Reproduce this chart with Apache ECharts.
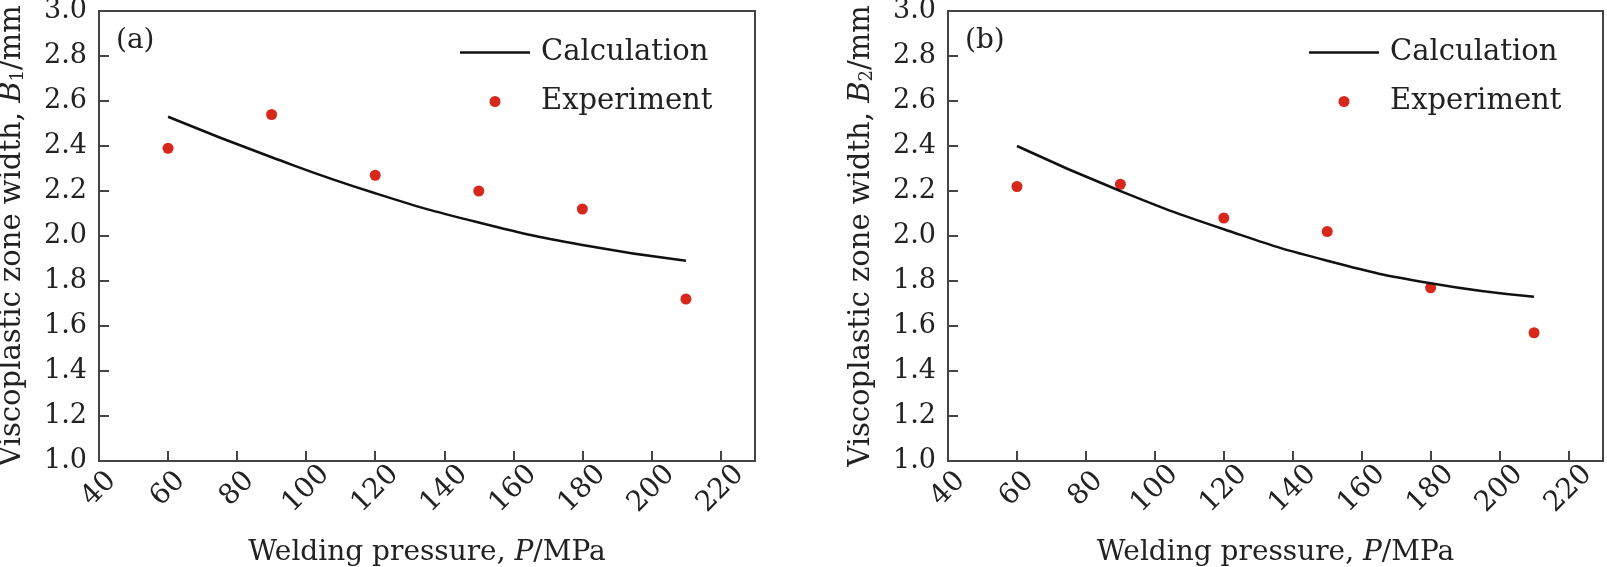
<!DOCTYPE html>
<html>
<head>
    <meta charset="utf-8">
    <title>Viscoplastic zone width</title>
    <script src="https://cdn.jsdelivr.net/npm/echarts@6/dist/echarts.min.js"></script>
    <style>
        html, body { margin: 0; padding: 0; background: #fff; }
        #chart-container { width: 1607px; height: 567px; }
    </style>
</head>
<body>
<div id="chart-container"></div>
<script>
    const chartDom = document.getElementById('chart-container');
    const myChart = echarts.init(chartDom);

    // data
    const pressure = [60, 90, 120, 150, 180, 210];
    const calcB1 = [2.53, 2.35, 2.19, 2.06, 1.96, 1.89];
    const expB1 = [2.39, 2.54, 2.27, 2.20, 2.12, 1.72];
    const calcB2 = [2.40, 2.20, 2.03, 1.89, 1.79, 1.73];
    const expB2 = [2.22, 2.23, 2.08, 2.02, 1.77, 1.57];
    const panelLabels = ['(a)', '(b)'];
    const yNames = ['B', 'B'];
    const ySubs = ['1', '2'];

    const font = 'DejaVu Serif';
    const textColor = '#222';
    const axisColor = '#444';

    const grids = [
        { left: 99, top: 11, width: 656, height: 450 },
        { left: 948, top: 11, width: 655, height: 450 }
    ];

    function pairs(xs, ys) {
        return xs.map((x, i) => [x, ys[i]]);
    }

    const xAxes = grids.map((g, i) => ({
        type: 'value',
        gridIndex: i,
        min: 40,
        max: 230,
        interval: 20,
        name: '{n|Welding pressure, }{i|P}{n|/MPa}',
        nameLocation: 'middle',
        nameGap: 78,
        nameMoveOverlap: false,
        nameTextStyle: {
            rich: {
                n: { fontFamily: font, fontSize: 28, color: textColor },
                i: { fontFamily: font, fontSize: 28, color: textColor, fontStyle: 'italic' }
            }
        },
        axisLine: { lineStyle: { color: axisColor, width: 2 } },
        axisTick: { inside: true, length: 10, lineStyle: { color: axisColor, width: 2 } },
        splitLine: { show: false },
        axisLabel: {
            rotate: 45,
            align: 'center',
            verticalAlign: 'middle',
            margin: 28,
            fontFamily: font,
            fontSize: 28,
            color: textColor,
            formatter: v => (v === 230 ? '' : String(v))
        }
    }));

    const yAxes = grids.map((g, i) => ({
        type: 'value',
        gridIndex: i,
        min: 1,
        max: 3,
        interval: 0.2,
        name: '{n|Viscoplastic zone width, }{i|' + yNames[i] + '}{s|' + ySubs[i] + '}{n|/mm}',
        nameLocation: 'middle',
        nameGap: 72,
        nameMoveOverlap: false,
        nameTextStyle: {
            rich: {
                n: { fontFamily: font, fontSize: 29, color: textColor },
                i: { fontFamily: font, fontSize: 29, color: textColor, fontStyle: 'italic' },
                s: { fontFamily: font, fontSize: 18, color: textColor, verticalAlign: 'bottom', padding: [10, 0, 0, 0] }
            }
        },
        axisLine: { lineStyle: { color: axisColor, width: 2 } },
        axisTick: { inside: true, length: 10, lineStyle: { color: axisColor, width: 2 } },
        splitLine: { show: false },
        axisLabel: {
            margin: 12,
            fontFamily: font,
            fontSize: 27,
            color: textColor,
            formatter: v => v.toFixed(1)
        }
    }));

    const calcSets = [calcB1, calcB2];
    const expSets = [expB1, expB2];
    const series = [];
    grids.forEach((g, i) => {
        series.push({
            name: 'Calculation',
            type: 'line',
            xAxisIndex: i,
            yAxisIndex: i,
            data: pairs(pressure, calcSets[i]),
            symbol: 'none',
            smooth: 0.5,
            lineStyle: { color: '#111', width: 2.5 },
            itemStyle: { color: '#111' }
        });
        series.push({
            name: 'Experiment',
            type: 'scatter',
            xAxisIndex: i,
            yAxisIndex: i,
            data: pairs(pressure, expSets[i]),
            symbol: 'circle',
            symbolSize: 11,
            itemStyle: { color: '#d8281c', opacity: 1 }
        });
    });

    const option = {
        backgroundColor: '#fff',
        animation: false,
        title: grids.map((g, i) => ({
            text: panelLabels[i],
            left: g.left + 17,
            top: 27,
            padding: 0,
            textStyle: { fontFamily: font, fontSize: 28, fontWeight: 'normal', color: textColor }
        })),
        legend: [460, 1309].map(x => ({
            left: x,
            top: 38,
            orient: 'vertical',
            padding: 0,
            itemGap: 20,
            itemWidth: 70,
            itemHeight: 11,
            selectedMode: false,
            data: [
                { name: 'Calculation', icon: 'path://M0,0L70,0L70,2.5L0,2.5Z' },
                { name: 'Experiment', icon: 'circle' }
            ],
            textStyle: { fontFamily: font, fontSize: 29, color: textColor, padding: [0, 0, 0, 6] }
        })),
        grid: grids.map(g => Object.assign({
            show: true,
            borderColor: axisColor,
            borderWidth: 2,
            backgroundColor: 'transparent',
            outerBoundsMode: 'none'
        }, g)),
        xAxis: xAxes,
        yAxis: yAxes,
        series: series
    };

    myChart.setOption(option);

    window.addEventListener('resize', function() {
        myChart.resize();
    });
</script>
</body>
</html>
